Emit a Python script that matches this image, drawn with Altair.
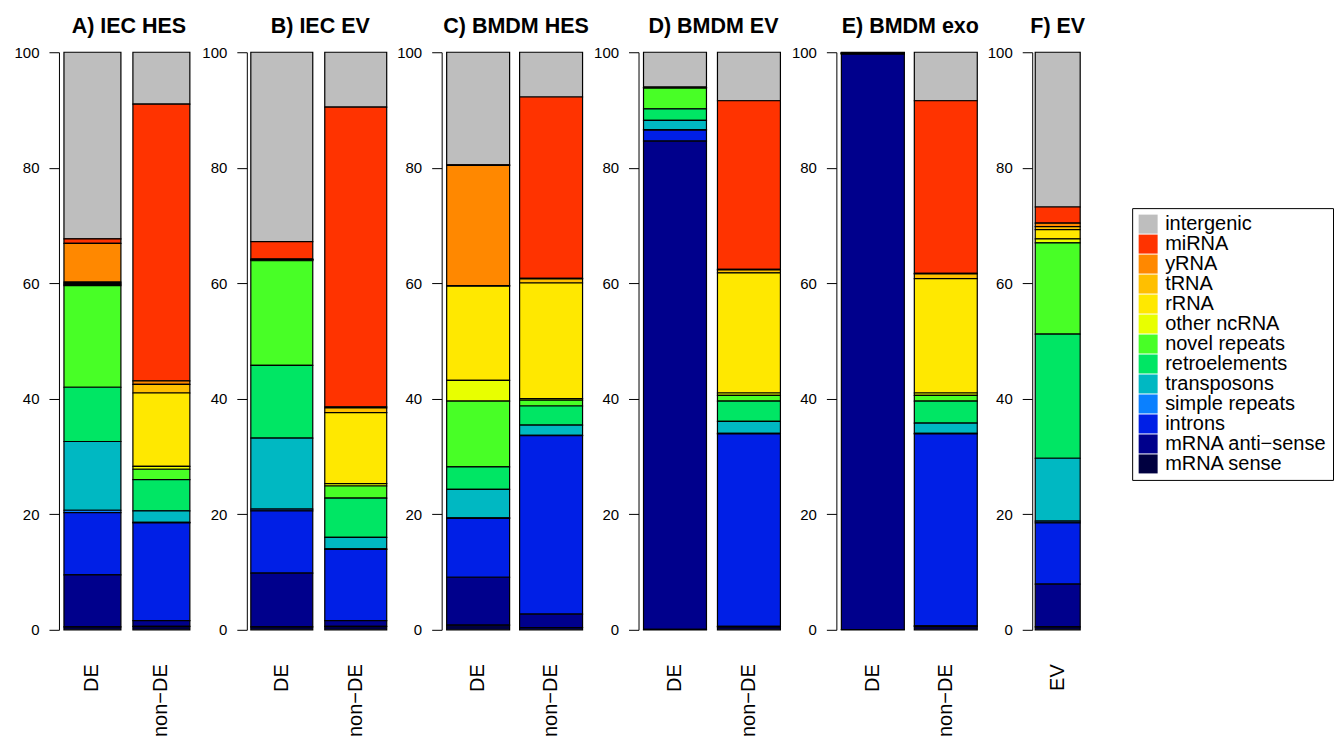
import altair as alt
import pandas as pd

FONT = "Liberation Sans"

# Read classes, listed top of the stack first (as in the legend)
categories = [
    "intergenic", "miRNA", "yRNA", "tRNA", "rRNA", "other ncRNA",
    "novel repeats", "retroelements", "transposons", "simple repeats",
    "introns", "mRNA anti\u2212sense", "mRNA sense",
]
colors = [
    "#BEBEBE", "#FF3300", "#FF8800", "#FFBF00", "#FFE800", "#E8FF00",
    "#48FF26", "#00E664", "#00B8C2", "#0A80FF", "#001FE6", "#00008C", "#000040",
]

panel_titles = ["A) IEC HES", "B) IEC EV", "C) BMDM HES", "D) BMDM EV", "E) BMDM exo", "F) EV"]
panel_samples = [
    ["DE", "non\u2212DE"], ["DE", "non\u2212DE"], ["DE", "non\u2212DE"],
    ["DE", "non\u2212DE"], ["DE", "non\u2212DE"], ["EV"],
]

# Percent of reads per class, same order as `categories`
iec_hes_de     = [32.3, 0.8, 6.7, 0.2, 0.2, 0.2, 17.6, 9.4, 11.9, 0.4, 10.8, 9.0, 0.5]
iec_hes_nonde  = [9.0, 47.9, 0.6, 1.5, 12.7, 0.5, 1.8, 5.4, 2.0, 0.1, 16.9, 1.0, 0.6]
iec_ev_de      = [32.8, 3.0, 0.05, 0.05, 0.1, 0.1, 18.1, 12.6, 12.3, 0.3, 10.8, 9.3, 0.5]
iec_ev_nonde   = [9.5, 51.9, 0.2, 0.8, 12.3, 0.4, 2.1, 6.8, 2.0, 0.1, 12.3, 1.0, 0.6]
bmdm_hes_de    = [19.5, 0.1, 20.8, 0.1, 16.3, 3.6, 11.4, 3.9, 4.9, 0.1, 10.2, 8.3, 0.8]
bmdm_hes_nonde = [7.75, 31.4, 0.1, 0.7, 20.0, 0.3, 1.0, 3.3, 1.8, 0.05, 30.9, 2.3, 0.4]
bmdm_ev_de     = [6.1, 0.0, 0.0, 0.0, 0.05, 0.05, 3.6, 2.0, 1.6, 0.1, 1.9, 84.5, 0.1]
bmdm_ev_nonde  = [8.4, 29.2, 0.1, 0.5, 20.8, 0.4, 1.0, 3.5, 2.1, 0.1, 33.3, 0.1, 0.5]
bmdm_exo_de    = [0.05, 0.05, 0.0, 0.0, 0.05, 0.0, 0.05, 0.05, 0.05, 0.0, 0.05, 99.6, 0.05]
bmdm_exo_nonde = [8.4, 29.9, 0.1, 0.8, 19.8, 0.4, 1.0, 3.8, 1.8, 0.1, 33.2, 0.1, 0.6]
ev_all         = [26.8, 2.8, 0.6, 0.5, 1.6, 0.7, 15.8, 21.5, 10.9, 0.3, 10.6, 7.4, 0.5]

panel_values = [
    [iec_hes_de, iec_hes_nonde],
    [iec_ev_de, iec_ev_nonde],
    [bmdm_hes_de, bmdm_hes_nonde],
    [bmdm_ev_de, bmdm_ev_nonde],
    [bmdm_exo_de, bmdm_exo_nonde],
    [ev_all],
]

# Plot width, bar width, gap between bars, left inset of first bar (pixels)
panel_geometry = [
    (140, 57, 12, 5),
    (147, 62, 12, 4),
    (149, 63, 10, 5),
    (150, 63, 11, 5),
    (148, 63, 10, 5),
    (51, 45, 0, 3),
]

rows = []
for title, samples, values in zip(panel_titles, panel_samples, panel_values):
    for sample, vals in zip(samples, values):
        for i, (cat, v) in enumerate(zip(categories, vals)):
            rows.append({"panel": title, "sample": sample, "category": cat,
                         "value": v, "order": len(categories) - 1 - i})
df = pd.DataFrame(rows)


def band_scale(n, width, bw, gap, left):
    step = bw + gap
    inner = gap / step if n > 1 else 0.0
    outer = (width / step - n + inner) / 2
    used = n * bw + (n - 1) * gap
    align = left / (width - used)
    return alt.Scale(paddingInner=inner, paddingOuter=outer, align=align)


color = alt.Color(
    "category:N",
    scale=alt.Scale(domain=categories, range=colors),
    legend=alt.Legend(
        title=None, orient="none", legendX=1074, legendY=156,
        strokeColor="black", fillColor="white", padding=6,
        symbolType="square", symbolSize=361, symbolStrokeWidth=0,
        labelFontSize=20, labelFont=FONT, labelColor="black",
        rowPadding=0, labelOffset=7, labelLimit=300,
    ),
)

panels = []
for title, samples, geom in zip(panel_titles, panel_samples, panel_geometry):
    width, bw, gap, left = geom
    chart = (
        alt.Chart(df)
        .transform_filter(alt.datum.panel == title)
        .mark_bar(stroke="black", strokeWidth=1.2)
        .encode(
            x=alt.X(
                "sample:N", sort=samples,
                scale=band_scale(len(samples), width, bw, gap, left),
                axis=alt.Axis(title=None, labelAngle=-90, labelFontSize=20,
                              labelFont=FONT, labelColor="black", ticks=False,
                              domain=False, labelPadding=34),
            ),
            y=alt.Y(
                "value:Q", stack="zero",
                scale=alt.Scale(domain=[0, 100], nice=False, zero=True),
                axis=alt.Axis(title=None, values=[0, 20, 40, 60, 80, 100],
                              tickSize=10, labelPadding=10, labelFontSize=15,
                              labelFont=FONT, labelColor="black",
                              domainColor="black", tickColor="black",
                              grid=False, minExtent=45, maxExtent=45),
            ),
            color=color,
            order=alt.Order("order:Q", sort="ascending"),
        )
        .properties(
            width=width, height=578,
            title=alt.TitleParams(title, fontSize=21.5, fontWeight="bold", font=FONT,
                                  color="black", anchor="middle", frame="group",
                                  offset=8),
        )
    )
    panels.append(chart)

chart = (
    alt.hconcat(*panels, spacing=2)
    .properties(padding={"left": 13, "top": 15, "right": 0, "bottom": 0})
    .configure_view(stroke=None)
)

chart.save("out.html", embed_options={"renderer": "svg", "actions": False})
